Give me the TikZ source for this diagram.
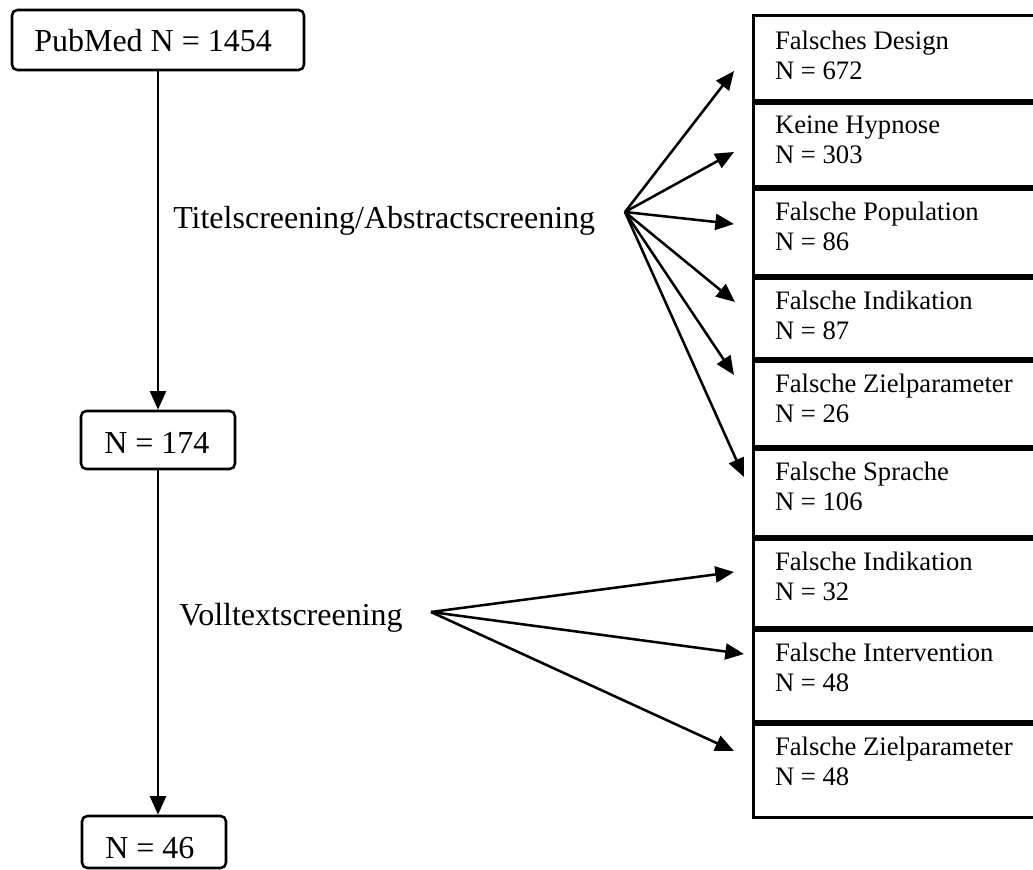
\documentclass[tikz,border=0pt]{standalone}
\usepackage{fontspec}
\setmainfont{Liberation Serif}
\usetikzlibrary{arrows.meta,fit}
\begin{document}
\begin{tikzpicture}[x=0.75pt,y=-0.75pt,line width=1.9pt,
  rbox/.style={draw,rounded corners=4pt,inner sep=0pt},
  cbox/.style={draw=none,inner sep=0pt},
  big/.style={inner sep=0pt,anchor=base west,font=\fontsize{24}{28}\selectfont},
  small/.style={inner sep=0pt,anchor=north west,align=left,font=\fontsize{20}{22.5}\selectfont},
  arr/.style={-{Triangle[length=14pt,width=12pt]}}]
\useasboundingbox (0,0) rectangle (1033,870);
% left boxes
\node[rbox,fit={(12,10)(304,70)}] (pub) {};
\node[big] (pubt) at (33,52) {PubMed N = 1454};
\node[rbox,fit={(81,411)(235,469)}] (n174) {};
\node[big] (n174t) at (103,453) {N = 174};
\node[rbox,fit={(82,816)(226,868)}] (n46) {};
\node[big] (n46t) at (104,858) {N = 46};
\draw[arr] (pub.south) -- (pub.south |- n174.north);
\draw[arr] (n174.south) -- (n174.south |- n46.north);
% stage labels
\node[big] (ts) at (172,229) {Titelscreening/Abstractscreening};
\node[big] (vs) at (178,625) {Volltextscreening};
% right boxes
\foreach \n/\a/\b/\t in {b1/17/102/{Falsches Design\\N = 672},
  b2/102/188/{Keine Hypnose\\N = 303},
  b3/188/277/{Falsche Population\\N = 86},
  b4/277/360/{Falsche Indikation\\N = 87},
  b5/360/448/{Falsche Zielparameter\\N = 26},
  b6/448/538/{Falsche Sprache\\N = 106},
  b7/538/629/{Falsche Indikation\\N = 32},
  b8/629/723/{Falsche Intervention\\N = 48},
  b9/723/816/{Falsche Zielparameter\\N = 48}}{
  \node[cbox,fit={(755,\a)(1033,\b)}] (\n) {};
  \node[small] (\n t) at ([xshift=15pt,yshift=-10.5pt]\n.north west) {\t};
  \draw (\n.north east) -- (\n.north west) -- (\n.south west) -- (\n.south east);
}
% fan arrows
\coordinate (t0) at (625,212);
\coordinate (t1) at (734,71);
\coordinate (t2) at (734,152);
\coordinate (t3) at (734,224);
\coordinate (t4) at (735,302);
\coordinate (t5) at (734,375);
\coordinate (t6) at (744,477);
\foreach \i in {1,...,6} \draw[arr] (t0) -- (t\i);
\coordinate (v0) at (431,612);
\coordinate (v1) at (734,572);
\coordinate (v2) at (744,654);
\coordinate (v3) at (734,751);
\foreach \i in {1,2,3} \draw[arr] (v0) -- (v\i);
\end{tikzpicture}
\end{document}
